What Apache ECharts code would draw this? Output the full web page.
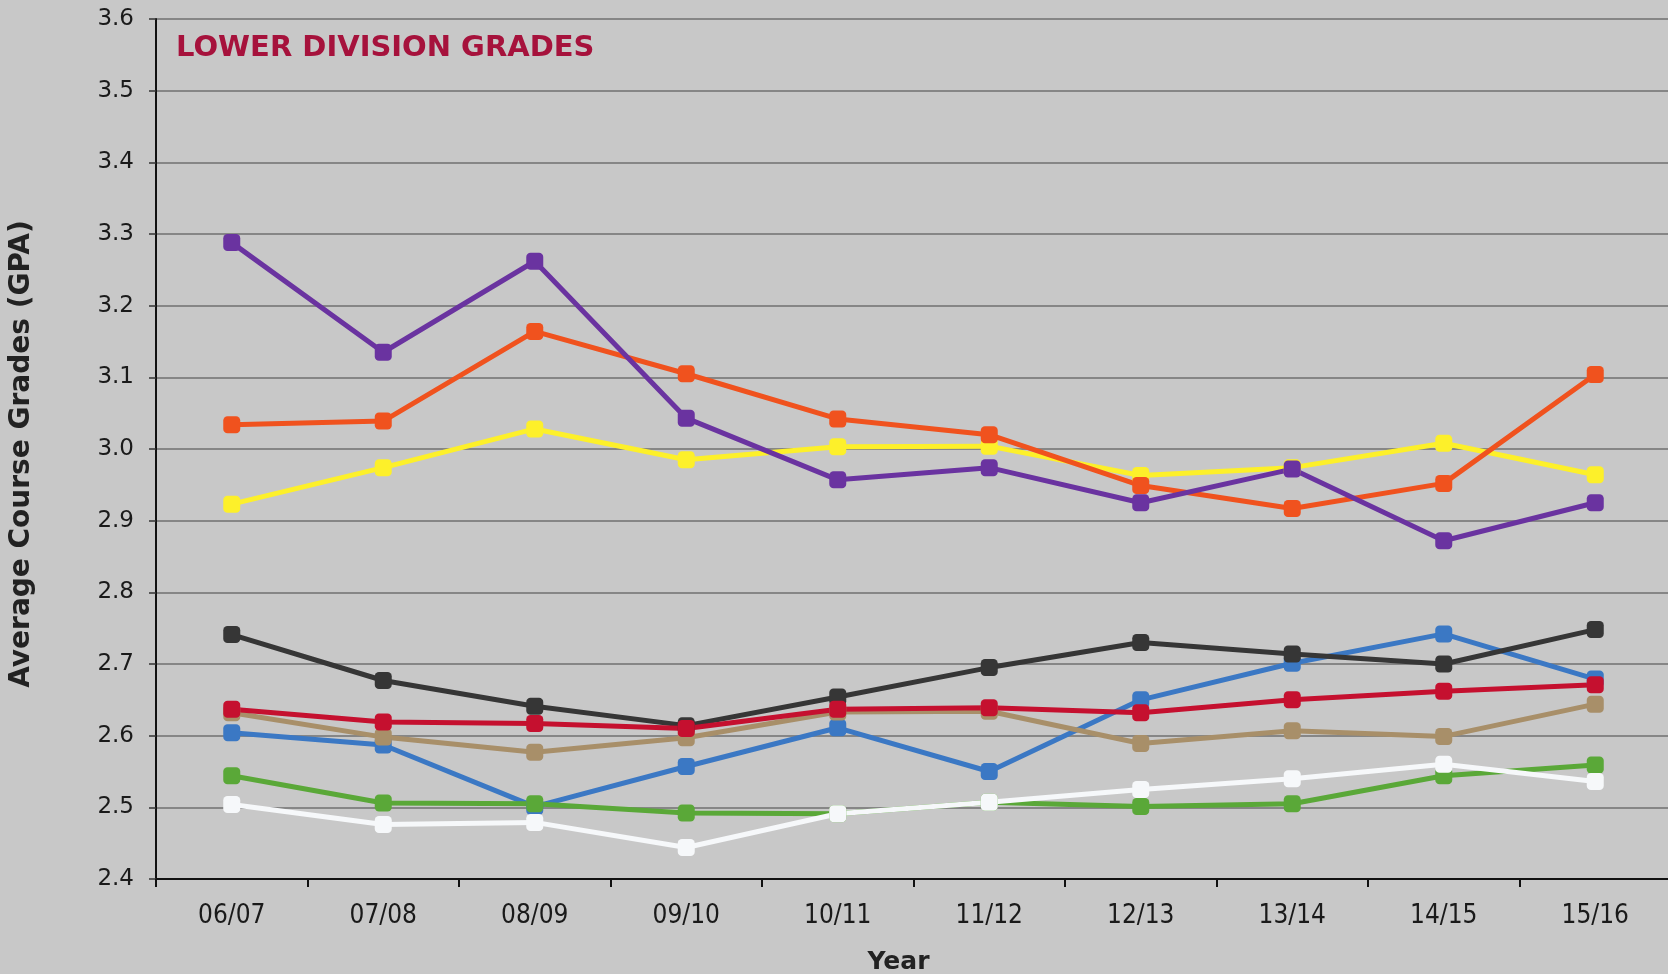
<!DOCTYPE html>
<html>
<head>
<meta charset="utf-8">
<title>Lower Division Grades</title>
<script src="https://cdn.jsdelivr.net/npm/echarts@6/dist/echarts.min.js"></script>
<style>
  html, body { margin: 0; padding: 0; background: #c8c8c8; }
  #chart { width: 1668px; height: 974px; }
</style>
</head>
<body>
<div id="chart"></div>
<script>
// academic years on the x axis
const years = ['06/07', '07/08', '08/09', '09/10', '10/11', '11/12', '12/13', '13/14', '14/15', '15/16'];

// average course grades per line (legend was not in the picture)
const blueVals   = [2.604, 2.587, 2.501, 2.557, 2.611, 2.550, 2.650, 2.701, 2.742, 2.679];
const tanVals    = [2.632, 2.598, 2.577, 2.597, 2.633, 2.634, 2.589, 2.607, 2.599, 2.644];
const greenVals  = [2.544, 2.506, 2.505, 2.492, 2.491, 2.507, 2.501, 2.505, 2.544, 2.559];
const whiteVals  = [2.504, 2.476, 2.479, 2.444, 2.491, 2.507, 2.525, 2.540, 2.560, 2.536];
const blackVals  = [2.741, 2.677, 2.641, 2.614, 2.654, 2.695, 2.730, 2.714, 2.700, 2.748];
const redVals    = [2.637, 2.619, 2.617, 2.610, 2.637, 2.639, 2.632, 2.650, 2.662, 2.671];
const yellowVals = [2.923, 2.974, 3.028, 2.985, 3.003, 3.004, 2.963, 2.974, 3.008, 2.964];
const orangeVals = [3.034, 3.039, 3.164, 3.105, 3.042, 3.020, 2.949, 2.917, 2.952, 3.104];
const purpleVals = [3.288, 3.135, 3.262, 3.043, 2.957, 2.974, 2.925, 2.972, 2.872, 2.925];

const yTicks = [2.4, 2.5, 2.6, 2.7, 2.8, 2.9, 3.0, 3.1, 3.2, 3.3, 3.4, 3.5, 3.6];

function makeLine(data, color) {
  return {
    type: 'line',
    data: data,
    symbol: 'roundRect',
    symbolSize: 17,
    lineStyle: { color: color, width: 5 },
    itemStyle: { color: color },
    emphasis: { disabled: true },
  };
}

let chart = echarts.init(document.getElementById('chart'));
let option = {
  backgroundColor: '#c8c8c8',
  animation: false,
  title: {
    text: 'LOWER DIVISION GRADES',
    left: 171,
    top: 29,
    textStyle: {
      fontFamily: 'DejaVu Sans',
      fontWeight: 'bold',
      fontSize: 29,
      color: '#a6123c',
    },
  },
  grid: {
    left: 156,
    top: 19,
    width: 1515,
    height: 860,
    outerBoundsMode: 'none', // v6 would otherwise shrink the grid to fit the axis name
  },
  xAxis: {
    type: 'category',
    data: years,
    boundaryGap: true,
    name: 'Year',
    nameLocation: 'middle',
    nameGap: 71,
    nameTextStyle: {
      fontFamily: 'DejaVu Sans',
      fontWeight: 'bold',
      fontSize: 25,
      color: '#222',
      padding: [0, 30, 0, 0],
    },
    axisLine: { lineStyle: { color: '#111', width: 2 } },
    axisTick: { show: true, length: 8, lineStyle: { color: '#111', width: 2 } },
    axisLabel: {
      fontFamily: 'DejaVu Sans Condensed, DejaVu Sans',
      fontSize: 26,
      color: '#1a1a1a',
      margin: 24,
    },
    splitLine: { show: false },
  },
  yAxis: {
    type: 'value',
    min: yTicks[0],
    max: yTicks[yTicks.length - 1],
    interval: 0.1,
    name: 'Average Course Grades (GPA)',
    nameLocation: 'middle',
    nameGap: 120,
    nameTextStyle: {
      fontFamily: 'DejaVu Sans',
      fontWeight: 'bold',
      fontSize: 28,
      color: '#222',
      padding: [0, 10, 0, 0],
    },
    axisLine: { show: true, lineStyle: { color: '#111', width: 2 } },
    axisTick: { show: true, length: 7, lineStyle: { color: '#333', width: 1.5 } },
    axisLabel: {
      fontFamily: 'DejaVu Sans',
      fontSize: 23,
      color: '#1a1a1a',
      margin: 22,
      formatter: function (v) { return v.toFixed(1); },
    },
    splitLine: { show: true, lineStyle: { color: '#707070', width: 1.5 } },
  },
  series: [
    makeLine(blueVals, '#3b78c4'),
    makeLine(tanVals, '#a88f69'),
    makeLine(greenVals, '#5aa838'),
    makeLine(whiteVals, '#f6f8fa'),
    makeLine(blackVals, '#363636'),
    makeLine(redVals, '#c5102f'),
    makeLine(yellowVals, '#fdf02a'),
    makeLine(orangeVals, '#f0521e'),
    makeLine(purpleVals, '#6a33a0'),
  ],
};
chart.setOption(option);
window.addEventListener('resize', () => {
  chart.resize();
});
</script>
</body>
</html>
